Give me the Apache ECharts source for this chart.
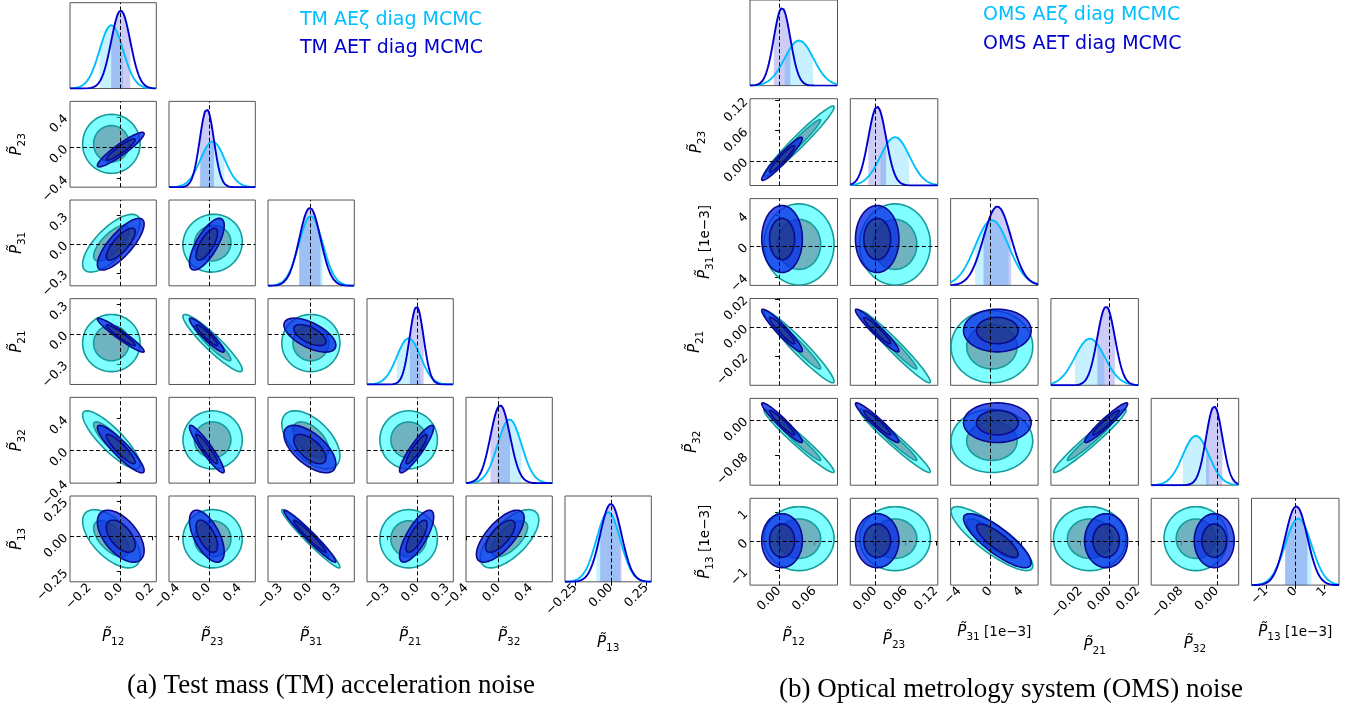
<!DOCTYPE html>
<html>
<head>
<meta charset="utf-8">
<script src="https://cdn.jsdelivr.net/npm/echarts@6/dist/echarts.min.js"></script>
<style>
  html, body { margin: 0; padding: 0; background: #ffffff; }
  #chart { width: 1370px; height: 706px; }
</style>
</head>
<body>
<div id="chart"></div>
<script>
// ---------------------------------------------------------------
// Corner-plot parameters (order of rows / columns)
// ---------------------------------------------------------------
const paramSymbol = 'P\u0303';
const paramSubscripts = ['12', '23', '31', '21', '32', '13'];

// ---------------- (a) Test mass acceleration noise ----------------
// posterior mean / standard deviation, AEζ and AET channel sets
const tmZetaMean  = [-0.060, 0.050, 0.010, -0.090, 0.135, -0.018];
const tmZetaSigma = [0.075, 0.157, 0.123, 0.118, 0.148, 0.084];
const tmAetMean   = [0.000, -0.025, 0.000, -0.010, 0.020, 0.000];
const tmAetSigma  = [0.061, 0.092, 0.110, 0.070, 0.121, 0.075];
// correlation coefficients, pairs ordered (0,1),(0,2),(1,2),(0,3),(1,3),(2,3),(0,4)...(4,5)
const tmZetaCorr = [0.00, 0.72, 0.05, 0.00, -0.93, 0.00, -0.85, 0.00, -0.55, 0.00, -0.60, 0.00, -0.97, 0.00, 0.65];
const tmAetCorr  = [0.92, 0.78, 0.72, -0.95, -0.93, -0.60, -0.90, -0.93, -0.62, 0.90, -0.55, -0.60, -0.97, 0.75, 0.70];
const tmTruth = [0, 0, 0, 0, 0, 0];
const tmAxisRange = [[-0.324, 0.227], [-0.515, 0.603], [-0.434, 0.460], [-0.508, 0.358], [-0.405, 0.665], [-0.322, 0.284]];
const tmTicks = [[-0.2, 0, 0.2], [-0.4, 0, 0.4], [-0.3, 0, 0.3], [-0.3, 0, 0.3], [-0.4, 0, 0.4], [-0.25, 0, 0.25]];
const tmTickDecimals = [1, 1, 1, 1, 1, 2];
const tmUnitSuffix = ['', '', '', '', '', ''];
const tmLegend = ['TM AE\u03b6 diag MCMC', 'TM AET diag MCMC'];
const tmCaption = '(a) Test mass (TM) acceleration noise';

// ---------------- (b) Optical metrology system noise ----------------
const omsZetaMean  = [0.034, 0.039, 0.20, -0.0135, -0.047, 0.10];
const omsZetaSigma = [0.0245, 0.0285, 2.15, 0.0103, 0.029, 0.45];
const omsAetMean   = [0.005, 0.004, 0.90, -0.0022, -0.006, 0.03];
const omsAetSigma  = [0.0142, 0.0175, 1.78, 0.0061, 0.0182, 0.38];
const omsZetaCorr = [0.97, 0.00, 0.00, -0.96, -0.97, 0.00, -0.97, -0.97, 0.00, 0.97, 0.00, 0.00, -0.85, 0.00, 0.00];
const omsAetCorr  = [0.95, 0.00, 0.00, -0.94, -0.95, 0.00, -0.95, -0.95, 0.00, 0.95, 0.00, 0.00, -0.82, 0.00, 0.00];
const omsTruth = [0, 0, 0, 0, 0, 0];
const omsAxisRange = [[-0.0498, 0.0998], [-0.049, 0.1234], [-5.12, 6.15], [-0.0405, 0.0202], [-0.1465, 0.0485], [-1.50, 1.49]];
const omsTicks = [[0, 0.06], [0, 0.06, 0.12], [-4, 0, 4], [-0.02, 0, 0.02], [-0.08, 0], [-1, 0, 1]];
const omsTickDecimals = [2, 2, 0, 2, 2, 0];
const omsUnitSuffix = ['', '', '[1e\u22123]', '', '', '[1e\u22123]'];
const omsLegend = ['OMS AE\u03b6 diag MCMC', 'OMS AET diag MCMC'];
const omsCaption = '(b) Optical metrology system (OMS) noise';

// ---------------------------------------------------------------
// Styling
// ---------------------------------------------------------------
const STYLE = [
  { // AEζ
    line: '#00BFFF', band: 'rgba(0,191,255,0.22)',
    outer: 'rgba(0,255,255,0.50)', inner: 'rgba(100,128,150,0.60)', edge: '#169c9c'
  },
  { // AET
    line: '#0000CD', band: 'rgba(0,0,205,0.20)',
    outer: 'rgba(5,42,230,0.78)', inner: 'rgba(40,50,90,0.50)', edge: '#0a0a90'
  }
];
const R68 = Math.sqrt(-2 * Math.log(1 - 0.68));
const R95 = Math.sqrt(-2 * Math.log(1 - 0.95));

const option = {
  animation: false,
  backgroundColor: '#ffffff',
  grid: [], xAxis: [], yAxis: [], series: [], graphic: []
};

function pairIndex(i, j) { return j * (j - 1) / 2 + i; }
function gauss(x, m, s) { return Math.exp(-0.5 * ((x - m) / s) ** 2) / (s * Math.sqrt(2 * Math.PI)); }
function fmt(dec) { return v => Number(v).toFixed(dec).replace('-', '\u2212'); }

function ellipse(mx, my, sx, sy, rho, r) {
  const pts = [], n = 90, k = Math.sqrt(Math.max(0, 1 - rho * rho));
  for (let t = 0; t < n; t++) {
    const a = 2 * Math.PI * t / n, c = Math.cos(a), s = Math.sin(a);
    pts.push([mx + r * sx * c, my + r * sy * (rho * c + k * s)]);
  }
  return pts;
}

function axisName(idx, suffix) {
  const base = '{p|' + paramSymbol + '}{s|' + paramSubscripts[idx] + '}';
  return suffix ? base + '{u| ' + suffix + '}' : base;
}
const nameRich = {
  p: { fontFamily: 'DejaVu Sans', fontStyle: 'italic', fontSize: 15, lineHeight: 22, color: '#000', verticalAlign: 'middle' },
  s: { fontFamily: 'DejaVu Sans', fontSize: 10.5, lineHeight: 13, color: '#000', verticalAlign: 'bottom' },
  u: { fontFamily: 'DejaVu Sans', fontSize: 13.5, lineHeight: 22, color: '#000', verticalAlign: 'middle' }
};

function buildCorner(cfg) {
  const means = [cfg.zetaMean, cfg.aetMean];
  const sigmas = [cfg.zetaSigma, cfg.aetSigma];
  const corrs = [cfg.zetaCorr, cfg.aetCorr];
  for (let r = 0; r < 6; r++) {
    for (let c = 0; c <= r; c++) {
      const g = option.grid.length;
      option.grid.push({
        left: cfg.left0 + cfg.pitchX * c, top: cfg.top0 + cfg.pitchY * r,
        width: cfg.w, height: cfg.h, show: true,
        borderColor: '#555', borderWidth: 1, backgroundColor: 'transparent'
      });
      const bottomRow = r === 5;
      option.xAxis.push({
        gridIndex: g, type: 'value',
        min: cfg.range[c][0], max: cfg.range[c][1],
        axisLine: { show: false }, splitLine: { show: false },
        axisTick: { show: bottomRow, customValues: cfg.ticks[c], inside: false, length: 4, lineStyle: { color: '#000' } },
        axisLabel: {
          show: bottomRow, customValues: cfg.ticks[c], rotate: 45, margin: 4,
          fontFamily: 'DejaVu Sans', fontSize: 12.5, color: '#000', formatter: fmt(cfg.decimals[c])
        },
        name: bottomRow ? axisName(c, cfg.suffix[c]) : '',
        nameLocation: 'middle', nameGap: cfg.xNameGap[c],
        nameTextStyle: { rich: nameRich }
      });
      if (r === c) {
        // 1D marginal
        const m = means.map(a => a[c]), s = sigmas.map(a => a[c]);
        const ymax = 1.1 * Math.max(gauss(m[0], m[0], s[0]), gauss(m[1], m[1], s[1]));
        option.yAxis.push({
          gridIndex: g, type: 'value', min: 0, max: ymax,
          axisLine: { show: false }, splitLine: { show: false },
          axisTick: { show: false }, axisLabel: { show: false }
        });
        const lo = cfg.range[c][0], hi = cfg.range[c][1];
        for (let k = 0; k < 2; k++) {
          const band = [];
          for (let t = 0; t <= 40; t++) {
            const x = m[k] - s[k] + 2 * s[k] * t / 40;
            band.push([x, gauss(x, m[k], s[k])]);
          }
          option.series.push({
            type: 'line', xAxisIndex: g, yAxisIndex: g, data: band, showSymbol: false,
            silent: true, lineStyle: { width: 0 }, areaStyle: { color: STYLE[k].band, opacity: 1 }, z: 2
          });
        }
        for (let k = 0; k < 2; k++) {
          const curve = [];
          for (let t = 0; t <= 200; t++) {
            const x = lo + (hi - lo) * t / 200;
            curve.push([x, gauss(x, m[k], s[k])]);
          }
          option.series.push({
            type: 'line', xAxisIndex: g, yAxisIndex: g, data: curve, showSymbol: false,
            silent: true, lineStyle: { width: 1.9, color: STYLE[k].line }, z: 3 + k
          });
        }
        option.series.push({
          type: 'line', xAxisIndex: g, yAxisIndex: g, data: [[cfg.truth[c], 0]], showSymbol: false,
          silent: true, lineStyle: { opacity: 0 }, z: 8,
          markLine: {
            silent: true, symbol: ['none', 'none'], label: { show: false },
            lineStyle: { color: '#000', type: [4, 2.5], width: 1 },
            data: [{ xAxis: cfg.truth[c] }]
          }
        });
      } else {
        // 2D marginal
        const leftCol = c === 0;
        option.yAxis.push({
          gridIndex: g, type: 'value', min: cfg.range[r][0], max: cfg.range[r][1],
          axisLine: { show: false }, splitLine: { show: false },
          axisTick: { show: leftCol, customValues: cfg.ticks[r], inside: false, length: 4, lineStyle: { color: '#000' } },
          axisLabel: {
            show: leftCol, customValues: cfg.ticks[r], rotate: 45, margin: 4,
            fontFamily: 'DejaVu Sans', fontSize: 12.5, color: '#000', formatter: fmt(cfg.decimals[r])
          },
          name: leftCol ? axisName(r, cfg.suffix[r]) : '',
          nameLocation: 'middle', nameGap: cfg.yNameGap[r],
          nameTextStyle: { rich: nameRich }
        });
        const polys = [];
        for (let k = 0; k < 2; k++) {
          const mx = means[k][c], my = means[k][r], sx = sigmas[k][c], sy = sigmas[k][r];
          const rho = corrs[k][pairIndex(c, r)];
          polys.push({ c: [mx, my], pts: ellipse(mx, my, sx, sy, rho, R95), fill: STYLE[k].outer, edge: STYLE[k].edge });
          polys.push({ c: [mx, my], pts: ellipse(mx, my, sx, sy, rho, R68), fill: STYLE[k].inner, edge: STYLE[k].edge });
        }
        option.series.push({
          type: 'custom', xAxisIndex: g, yAxisIndex: g, clip: true, silent: true, z: 2,
          data: polys.map(p => p.c),
          renderItem: (params, api) => {
            const p = polys[params.dataIndex];
            return {
              type: 'polygon',
              shape: { points: p.pts.map(q => api.coord(q)) },
              style: { fill: p.fill, stroke: p.edge, lineWidth: 1.6 }
            };
          }
        });
        option.series.push({
          type: 'line', xAxisIndex: g, yAxisIndex: g, data: [[cfg.truth[c], cfg.truth[r]]], showSymbol: false,
          silent: true, lineStyle: { opacity: 0 }, z: 8,
          markLine: {
            silent: true, symbol: ['none', 'none'], label: { show: false },
            lineStyle: { color: '#000', type: [4, 2.5], width: 1 },
            data: [{ xAxis: cfg.truth[c] }, { yAxis: cfg.truth[r] }]
          }
        });
      }
    }
  }
  // series legend text
  cfg.legend.forEach((txt, k) => {
    option.graphic.push({
      type: 'text', silent: true,
      style: {
        x: cfg.legendX, y: cfg.legendY[k], text: txt, fill: STYLE[k].line,
        font: '19px "DejaVu Sans"', align: 'left', verticalAlign: 'middle',
        textAlign: 'left', textVerticalAlign: 'middle'
      }
    });
  });
  // panel caption
  option.graphic.push({
    type: 'text', silent: true,
    style: {
      x: cfg.captionX, y: cfg.captionY, text: cfg.caption, fill: '#000',
      font: '27px "Liberation Serif"', align: 'center', verticalAlign: 'middle',
      textAlign: 'center', textVerticalAlign: 'middle'
    }
  });
}

buildCorner({
  left0: 70, pitchX: 99, w: 86.3, top0: 2.7, pitchY: 98.66, h: 85.8,
  zetaMean: tmZetaMean, zetaSigma: tmZetaSigma, aetMean: tmAetMean, aetSigma: tmAetSigma,
  zetaCorr: tmZetaCorr, aetCorr: tmAetCorr, truth: tmTruth,
  range: tmAxisRange, ticks: tmTicks, decimals: tmTickDecimals, suffix: tmUnitSuffix,
  xNameGap: [44, 44, 44, 44, 44, 50], yNameGap: [42, 42, 42, 42, 42, 42],
  legend: tmLegend, legendX: 300, legendY: [20, 48],
  caption: tmCaption, captionX: 331, captionY: 686
});
buildCorner({
  left0: 750, pitchX: 100.3, w: 87.5, top0: -1.2, pitchY: 99.9, h: 86.8,
  zetaMean: omsZetaMean, zetaSigma: omsZetaSigma, aetMean: omsAetMean, aetSigma: omsAetSigma,
  zetaCorr: omsZetaCorr, aetCorr: omsAetCorr, truth: omsTruth,
  range: omsAxisRange, ticks: omsTicks, decimals: omsTickDecimals, suffix: omsUnitSuffix,
  xNameGap: [41, 44, 36, 50, 48, 36], yNameGap: [42, 42, 34, 44, 47, 34],
  legend: omsLegend, legendX: 983, legendY: [15, 44],
  caption: omsCaption, captionX: 1011, captionY: 690
});

const chart = echarts.init(document.getElementById('chart'), null, { renderer: 'canvas' });
chart.setOption(option);
</script>
</body>
</html>
